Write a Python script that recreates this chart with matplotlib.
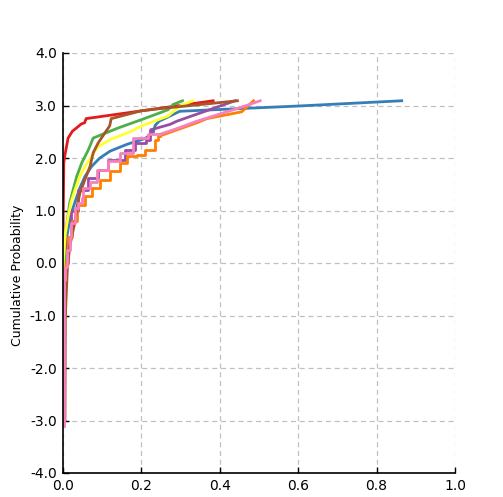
import matplotlib
matplotlib.use("Agg")
import matplotlib.pyplot as plt

# Series data: x = value, z = cumulative probability (normal score)
red_x = [0.000, 0.000, 0.000, 0.001, 0.002, 0.005, 0.009, 0.013, 0.024, 0.034, 0.047, 0.055, 0.059, 0.383]
red_z = [-3.09, -1.00, 0.50, 1.20, 1.91, 2.06, 2.22, 2.38, 2.51, 2.57, 2.65, 2.67, 2.75, 3.09]

blue_x = [0.002, 0.003, 0.005, 0.010, 0.018, 0.031, 0.043, 0.056, 0.073, 0.094, 0.120, 0.163, 0.209, 0.230, 0.235, 0.245, 0.298, 0.600, 0.864]
blue_z = [-3.00, -1.00, 0.00, 0.50, 0.88, 1.17, 1.43, 1.65, 1.84, 2.00, 2.13, 2.26, 2.37, 2.48, 2.62, 2.70, 2.89, 2.99, 3.09]

green_x = [0.004, 0.004, 0.004, 0.006, 0.011, 0.017, 0.026, 0.035, 0.048, 0.065, 0.077, 0.140, 0.200, 0.247, 0.268, 0.281, 0.305]
green_z = [-3.00, -1.00, 0.00, 0.50, 0.82, 1.14, 1.40, 1.65, 1.91, 2.16, 2.38, 2.57, 2.73, 2.86, 2.92, 3.02, 3.09]

purple_x = [0.003, 0.004, 0.010, 0.020, 0.037, 0.064, 0.089, 0.115, 0.157, 0.183, 0.213, 0.222, 0.225, 0.273, 0.290, 0.439]
purple_z = [-3.00, -1.00, 0.00, 0.50, 1.00, 1.40, 1.62, 1.78, 1.97, 2.16, 2.29, 2.35, 2.54, 2.64, 2.70, 3.09]

orange_x = [0.003, 0.005, 0.012, 0.022, 0.035, 0.056, 0.073, 0.094, 0.120, 0.145, 0.163, 0.188, 0.209, 0.234, 0.242, 0.247, 0.341, 0.367, 0.456, 0.486]
orange_z = [-3.00, -1.00, 0.00, 0.50, 0.80, 1.11, 1.27, 1.43, 1.59, 1.75, 1.91, 2.03, 2.06, 2.16, 2.35, 2.42, 2.67, 2.75, 2.88, 3.09]

yellow_x = [0.001, 0.001, 0.000, 0.003, 0.006, 0.013, 0.021, 0.031, 0.043, 0.056, 0.073, 0.090, 0.120, 0.175, 0.200, 0.268, 0.298, 0.331]
yellow_z = [-3.00, -1.00, -0.07, 0.25, 0.57, 0.88, 1.17, 1.40, 1.65, 1.84, 2.03, 2.22, 2.35, 2.51, 2.61, 2.80, 2.99, 3.09]

brown_x = [0.005, 0.006, 0.011, 0.017, 0.026, 0.030, 0.036, 0.043, 0.056, 0.069, 0.077, 0.090, 0.107, 0.119, 0.123, 0.200, 0.247, 0.445]
brown_z = [-3.00, -1.00, -0.13, 0.31, 0.63, 0.76, 1.08, 1.33, 1.59, 1.84, 2.10, 2.29, 2.48, 2.61, 2.75, 2.90, 2.94, 3.09]

pink_x = [0.002, 0.003, 0.006, 0.011, 0.017, 0.021, 0.030, 0.039, 0.048, 0.052, 0.069, 0.086, 0.116, 0.145, 0.179, 0.218, 0.247, 0.298, 0.341, 0.452, 0.503]
pink_z = [-3.10, -1.00, -0.32, -0.07, 0.25, 0.50, 0.76, 1.05, 1.14, 1.24, 1.43, 1.55, 1.78, 1.94, 2.10, 2.38, 2.45, 2.58, 2.70, 2.96, 3.09]

# (x, z, colour, index where the stepped part ends; 0 = no steps)
series = [
    (red_x, red_z, "#e41a1c", 0),
    (blue_x, blue_z, "#377eb8", 0),
    (green_x, green_z, "#4daf4a", 0),
    (purple_x, purple_z, "#984ea3", 12),
    (orange_x, orange_z, "#ff7f00", 15),
    (yellow_x, yellow_z, "#ffff33", 0),
    (brown_x, brown_z, "#a65628", 0),
    (pink_x, pink_z, "#f781bf", 16),
]

x_ticks = [0.0, 0.2, 0.4, 0.6, 0.8, 1.0]
y_ticks = [-4.0, -3.0, -2.0, -1.0, 0.0, 1.0, 2.0, 3.0, 4.0]

fig = plt.figure(figsize=(5.03, 4.97), dpi=100)
ax = fig.add_axes([63/503, 1-473/497, (455-63)/503, (473-53)/497])

for xs, zs, c, k in series:
    if k > 0:
        ax.plot(xs[:k + 1], zs[:k + 1], color=c, lw=2.0, drawstyle="steps-pre")
    ax.plot(xs[k:], zs[k:], color=c, lw=2.0)

ax.set_xlim(0, 1)
ax.set_ylim(-4, 4)
ax.set_xticks(x_ticks)
ax.set_yticks(y_ticks)
ax.set_xticklabels([f"{v:.1f}" for v in x_ticks])
ax.set_yticklabels([f"{v:.1f}" for v in y_ticks])
ax.tick_params(direction="in", length=4, width=1, labelsize=10, pad=4.5)
ax.grid(True, color="#c0c0c0", linestyle=(0, (4, 3)), linewidth=0.9)
ax.set_axisbelow(True)
for s in ["top", "right"]:
    ax.spines[s].set_visible(False)
for s in ["left", "bottom"]:
    ax.spines[s].set_linewidth(1.2)
ax.set_ylabel("Cumulative Probability", fontsize=9)
ax.yaxis.set_label_coords(-0.0995, 0.47)

fig.savefig("out.png", dpi=100)
